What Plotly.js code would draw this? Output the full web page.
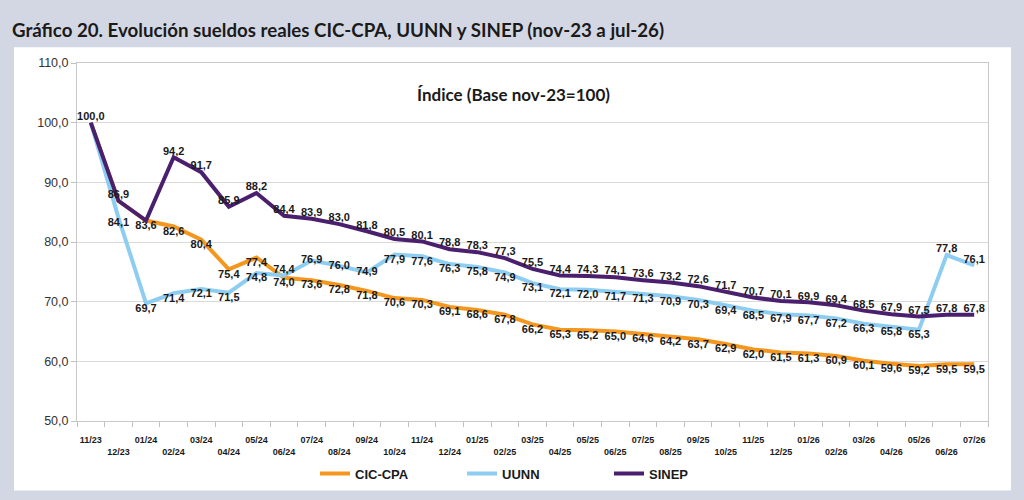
<!DOCTYPE html>
<html>
<head>
<meta charset="utf-8">
<script src="https://cdn.plot.ly/plotly-3.0.1.min.js"></script>
<style>
  html, body { margin: 0; padding: 0; background: #d3d7e3; }
  #chart { width: 1024px; height: 500px; }
</style>
</head>
<body>
<div id="chart"></div>
<script>
// Months (x categories)
const months = [
  "11/23", "12/23", "01/24", "02/24", "03/24", "04/24", "05/24", "06/24", "07/24",
  "08/24", "09/24", "10/24", "11/24", "12/24", "01/25", "02/25", "03/25", "04/25",
  "05/25", "06/25", "07/25", "08/25", "09/25", "10/25", "11/25", "12/25", "01/26",
  "02/26", "03/26", "04/26", "05/26", "06/26", "07/26"
];

// Index values (base nov-23 = 100)
const cicCpa = [
  100.0, 86.9, 83.6, 82.6, 80.4, 75.4, 77.4, 74.0, 73.6, 72.8, 71.8, 70.6, 70.3,
  69.1, 68.6, 67.8, 66.2, 65.3, 65.2, 65.0, 64.6, 64.2, 63.7, 62.9, 62.0, 61.5,
  61.3, 60.9, 60.1, 59.6, 59.2, 59.5, 59.5
];
const uunn = [
  100.0, 84.1, 69.7, 71.4, 72.1, 71.5, 74.8, 74.4, 76.9, 76.0, 74.9, 77.9, 77.6,
  76.3, 75.8, 74.9, 73.1, 72.1, 72.0, 71.7, 71.3, 70.9, 70.3, 69.4, 68.5, 67.9,
  67.7, 67.2, 66.3, 65.8, 65.3, 77.8, 76.1
];
const sinep = [
  100.0, 86.9, 83.6, 94.2, 91.7, 85.9, 88.2, 84.4, 83.9, 83.0, 81.8, 80.5, 80.1,
  78.8, 78.3, 77.3, 75.5, 74.4, 74.3, 74.1, 73.6, 73.2, 72.6, 71.7, 70.7, 70.1,
  69.9, 69.4, 68.5, 67.9, 67.5, 67.8, 67.8
];

// alternate tick labels on two rows
const tickText = months.map((m, i) => (i % 2 ? "<br><b>" + m + "</b>" : "<b>" + m + "</b>"));

const LBL = "<b>%{y:.1f}</b>";

// label templates / positions (hide labels that overlap at the shared start)
const cicTpl = cicCpa.map((v, i) => (i < 2 ? "" : LBL));
const cicPos = cicCpa.map(() => "bottom center");

const uunnTpl = uunn.map((v, i) => (i === 0 ? "" : LBL));
const uunnPos = uunn.map((v, i) => {
  if (i === 7 || i >= 31) return "top center";
  if (i >= 8 && i <= 10) return "middle center";
  return "bottom center";
});

const sinepTpl = sinep.map((v, i) => (i === 2 ? "" : LBL));
const sinepPos = sinep.map(() => "top center");

const labelFont = { family: "Liberation Sans, Arial, sans-serif", size: 11, color: "#1a1a1a" };

function series(name, y, color, tpl, pos) {
  return {
    x: months,
    y: y,
    name: name,
    type: "scatter",
    mode: "lines+text",
    line: { color: color, width: 4 },
    texttemplate: tpl,
    textposition: pos,
    textfont: labelFont,
    hoverinfo: "x+y+name",
    cliponaxis: false
  };
}

const data = [
  series("CIC-CPA", cicCpa, "#f5961f", cicTpl, cicPos),
  series("UUNN", uunn, "#8ecdf2", uunnTpl, uunnPos),
  series("SINEP", sinep, "#4a1f6e", sinepTpl, sinepPos)
];

const layout = {
  width: 1024,
  height: 500,
  separators: ",.",
  paper_bgcolor: "#d3d7e3",
  plot_bgcolor: "#ffffff",
  margin: { l: 77, r: 36, t: 63, b: 76 },
  title: {
    text: "<b>Gráfico 20. Evolución sueldos reales CIC-CPA, UUNN y SINEP (nov-23 a jul-26)</b>",
    font: { family: "Lato, Open Sans, sans-serif", size: 18.7, color: "#1a1a1a" },
    xref: "container", x: 12 / 1024, xanchor: "left",
    yref: "container", y: 1 - 30 / 500, yanchor: "middle"
  },
  shapes: [{
    type: "rect", xref: "paper", yref: "paper", layer: "below",
    x0: (14 - 77) / 911, x1: (1011 - 77) / 911,
    y0: (424 - 494) / 361, y1: (424 - 47) / 361,
    fillcolor: "#ffffff", line: { width: 0 }
  }],
  annotations: [{
    text: "<b>Índice (Base nov-23=100)</b>",
    xref: "paper", yref: "paper",
    x: (513 - 77) / 911, y: (424 - 95) / 361,
    xanchor: "center", yanchor: "middle", showarrow: false,
    font: { family: "Lato, Open Sans, sans-serif", size: 17, color: "#1a1a1a" }
  }],
  xaxis: {
    type: "category",
    range: [-0.5, months.length - 0.5],
    tickmode: "array",
    tickvals: months,
    ticktext: tickText,
    tickangle: 0,
    tickson: "boundaries",
    ticks: "outside",
    ticklen: 5,
    ticklabelstandoff: 10,
    tickcolor: "#c0c0c0",
    tickfont: { family: "Liberation Sans, Arial, sans-serif", size: 9, color: "#1a1a1a" },
    showgrid: false,
    showline: true,
    linecolor: "#c8c8c8",
    mirror: true,
    zeroline: false
  },
  yaxis: {
    range: [50, 110],
    dtick: 10,
    tickformat: ".1f",
    ticks: "outside",
    ticklen: 5,
    tickcolor: "#c0c0c0",
    tickfont: { family: "Liberation Sans, Arial, sans-serif", size: 12.5, color: "#333333" },
    gridcolor: "#dadada",
    showline: true,
    linecolor: "#c8c8c8",
    mirror: true,
    zeroline: false
  },
  showlegend: true,
  legend: {
    orientation: "h",
    x: (315 - 77) / 911, xanchor: "left",
    y: (424 - 477) / 361, yanchor: "middle",
    bgcolor: "rgba(0,0,0,0)",
    itemwidth: 30,
    entrywidth: 102,
    font: { family: "Liberation Sans, Arial, sans-serif", size: 13, color: "#1a1a1a", weight: "bold" }
  }
};

Plotly.newPlot("chart", data, layout, { displayModeBar: false, staticPlot: true });
</script>
</body>
</html>
